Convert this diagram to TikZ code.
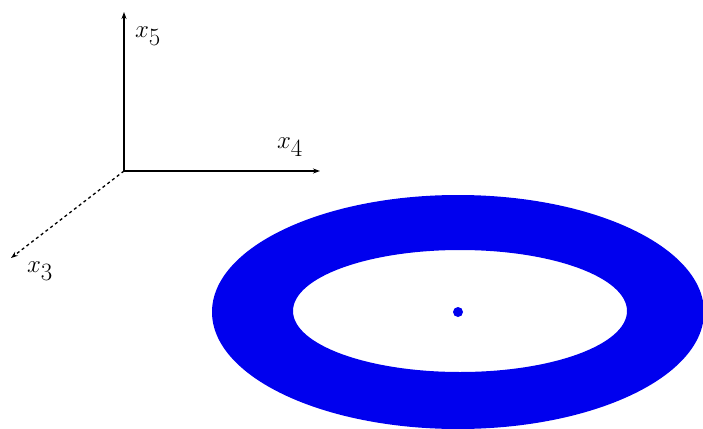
\documentclass[tikz,border=0pt]{standalone}
\usepackage{tikz}
\usetikzlibrary{arrows.meta,positioning}
\definecolor{ringcolor}{RGB}{0,0,238}
\tikzset{
  axis line/.style={
    line width=1.8pt,
    -{Stealth[length=7pt,width=5pt]}
  },
  hidden axis/.style={
    axis line,
    line width=1.3pt,
    dash pattern=on 3pt off 3pt
  },
  axis label/.style={
    font=\fontsize{38}{42}\selectfont,
    inner sep=0pt
  },
  centre dot/.style={
    circle,
    fill=ringcolor,
    minimum size=10pt,
    inner sep=0pt
  }
}

\begin{document}
\begin{tikzpicture}[x=1pt,y=-1pt]
  \useasboundingbox (0,0) rectangle (703,428);

  % Axes
  \coordinate (O) at (124,171);
  \coordinate (x5end) at (124,12);
  \coordinate (x4end) at (320,171);
  \coordinate (x3end) at (11,258);
  \draw[axis line] (O) -- (x5end);
  \draw[axis line] (O) -- (x4end);
  \draw[hidden axis] (O) -- (x3end);

  \node[axis label] (x5) at (148,36) {$x_5$};
  \node[axis label] (x4) at (290,147) {$x_4$};
  \node[axis label] (x3) at (40,271) {$x_3$};

  % Ring
  \fill[ringcolor, even odd rule]
    (458,312) ellipse [x radius=246, y radius=117]
    (460,311) ellipse [x radius=167, y radius=61];
  \node[centre dot] (c) at (458,312) {};

\end{tikzpicture}
\end{document}
